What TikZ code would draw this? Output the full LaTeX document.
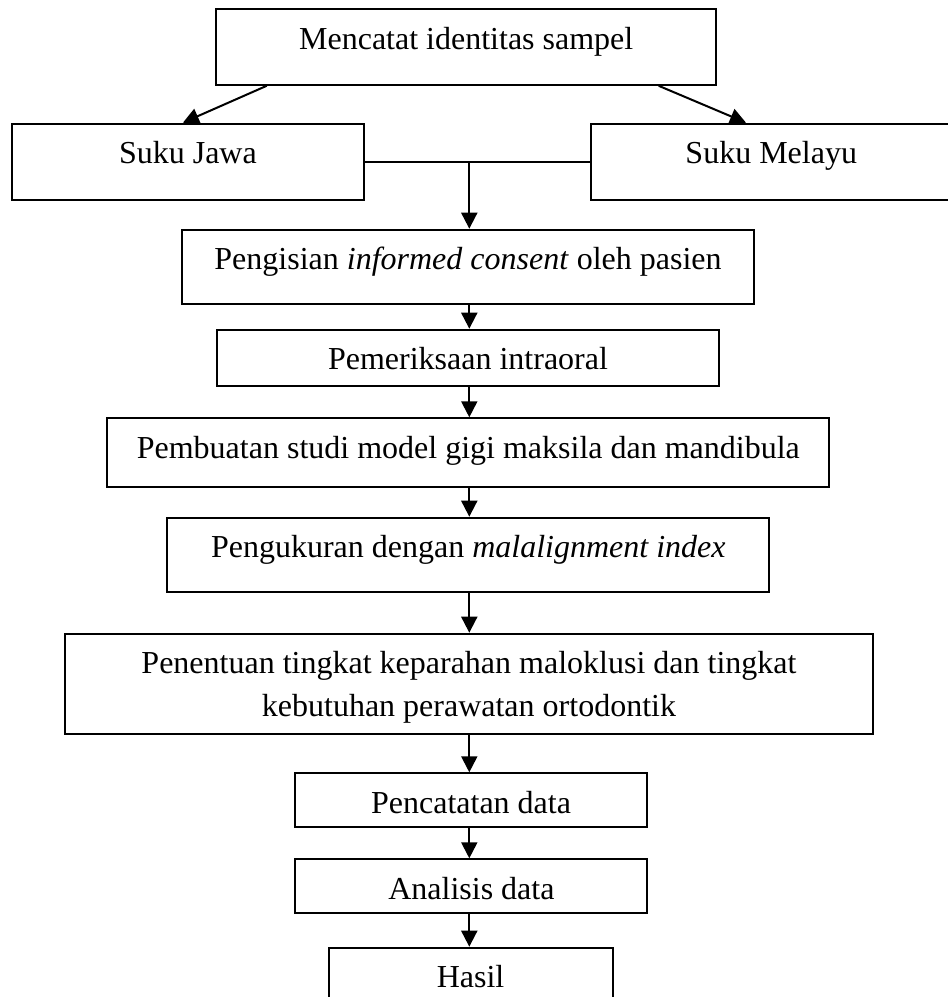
\documentclass[tikz,border=0pt]{standalone}
\usepackage{fontspec}
\setmainfont{Liberation Serif}
\usetikzlibrary{arrows.meta}
\begin{document}
\begin{tikzpicture}[x=1pt,y=-1pt,
  box/.style={draw, line width=2pt, inner xsep=0pt, inner ysep=0pt, anchor=north west,
              text height=40pt, font=\fontsize{32}{42.5}\selectfont},
  conn/.style={line width=2pt, -{Triangle[length=16pt,width=16pt]}},
  plainline/.style={line width=2pt}]
\useasboundingbox (0,0) rectangle (948,997);
\node[box, minimum width=500pt, minimum height=75.8pt, text depth=35.8pt] (top) at (215.2,8) {Mencatat identitas sampel};
\node[box, minimum width=352pt, minimum height=76.5pt, text depth=36.5pt] (jawa) at (10.9,122.7) {Suku Jawa};
\node[box, minimum width=361.5pt, minimum height=76.5pt, text depth=36.5pt] (melayu) at (589.5,122.7) {Suku Melayu};
\node[box, minimum width=571.3pt, minimum height=74pt, text depth=34pt] (consent) at (181.4,228.7) {Pengisian \textit{informed consent} oleh pasien};
\node[box, minimum width=501.2pt, minimum height=56.3pt, text depth=16.3pt] (intra) at (216.4,328.7) {Pemeriksaan intraoral};
\node[box, minimum width=721.9pt, minimum height=68.7pt, text depth=28.7pt] (model) at (106.4,417.3) {Pembuatan studi model gigi maksila dan mandibula};
\node[box, minimum width=602.1pt, minimum height=74.3pt, text depth=34.3pt] (ukur) at (166.3,516.7) {Pengukuran dengan \textit{malalignment index}};
\node[box, minimum width=808.9pt, minimum height=100.6pt, text depth=60.6pt] (tentu) at (63.5,632.7)
  {\begin{tabular}[t]{@{}c@{}}Penentuan tingkat keparahan maloklusi dan tingkat\\ kebutuhan perawatan ortodontik\end{tabular}};
\node[box, minimum width=351.3pt, minimum height=53.4pt, text depth=13.4pt] (catat) at (294.4,772.3) {Pencatatan data};
\node[box, minimum width=352pt, minimum height=53.4pt, text depth=13.4pt] (analisis) at (294.4,858.3) {Analisis data};
\node[box, minimum width=283.8pt, minimum height=80pt, text depth=40pt] (hasil) at (327.7,946.7) {Hasil};
\coordinate (axis) at (469.3,0);
\draw[conn] ([xshift=51.5pt]top.south west) -- ([xshift=172pt]jawa.north west);
\draw[conn] ([xshift=-58.5pt]top.south east) -- ([xshift=156.5pt]melayu.north west);
\draw[plainline] (jawa.east) -- (melayu.west);
\draw[conn] (axis |- jawa.east) -- (axis |- consent.north);
\draw[conn] (axis |- consent.south) -- (axis |- intra.north);
\draw[conn] (axis |- intra.south) -- (axis |- model.north);
\draw[conn] (axis |- model.south) -- (axis |- ukur.north);
\draw[conn] (axis |- ukur.south) -- (axis |- tentu.north);
\draw[conn] (axis |- tentu.south) -- (axis |- catat.north);
\draw[conn] (axis |- catat.south) -- (axis |- analisis.north);
\draw[conn] (axis |- analisis.south) -- (axis |- hasil.north);
\end{tikzpicture}
\end{document}
